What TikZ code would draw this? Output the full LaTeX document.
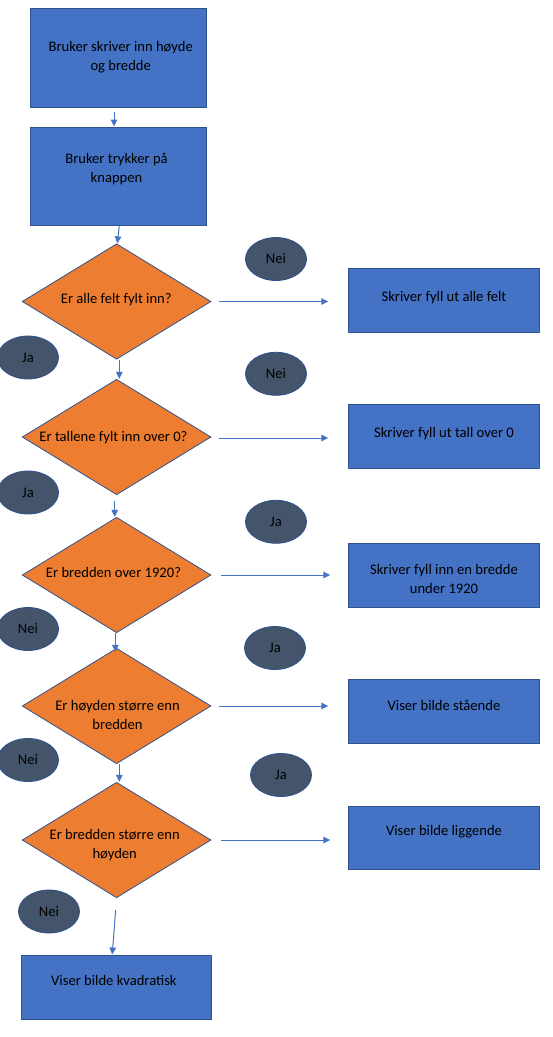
\documentclass[tikz,border=0pt]{standalone}
\usepackage{fontspec}
\setmainfont{Carlito}
\usetikzlibrary{shapes.geometric,arrows.meta}
\definecolor{boxblue}{HTML}{4472C4}
\definecolor{edgeblue}{HTML}{2F528F}
\definecolor{dorange}{HTML}{ED7D31}
\definecolor{ovalgray}{HTML}{44546A}
\begin{document}
\begin{tikzpicture}[x=1pt,y=-1pt,
  font=\fontsize{14.6}{19}\selectfont,
  bluebox/.style={draw=edgeblue,fill=boxblue,line width=1pt,inner sep=0pt,minimum width=#1},
  bluebox/.default=190.3pt,
  decision/.style={diamond,draw=edgeblue,fill=dorange,line width=0.8pt,inner sep=0pt,
    minimum width=188.8pt,minimum height=115.5pt},
  oval/.style={ellipse,draw=edgeblue,fill=ovalgray,line width=0.8pt,inner sep=0pt,
    minimum width=61pt,minimum height=43pt},
  txt/.style={align=center,inner sep=0pt},
  flow/.style={draw=boxblue,line width=1pt,-{Triangle[length=7pt,width=6.5pt]}}
]
\useasboundingbox (0,0) rectangle (553,1037);
\clip (0,0) rectangle (553,1037);

% left column boxes
\node[bluebox=176.4pt,minimum height=99pt] (b1) at (118.6,57.5) {};
\node[txt] (t1) at (120.7,57.5) {Bruker skriver inn høyde\\og bredde};
\node[bluebox=176.4pt,minimum height=98pt] (b2) at (118.6,176) {};
\node[txt] (t2) at (116.5,169) {Bruker trykker på\\knappen};

% decisions
\node[decision] (d1) at (116.6,301.5) {};
\node[txt] (td1) at (116.3,299.5) {Er alle felt fylt inn?};
\node[decision] (d2) at (116.6,437) {};
\node[txt] (td2) at (113.5,437.5) {Er tallene fylt inn over 0?};
\node[decision] (d3) at (116.6,575) {};
\node[txt] (td3) at (113.5,572.5) {Er bredden over 1920?};
\node[decision] (d4) at (116.6,706) {};
\node[txt] (t4) at (117.5,715) {Er høyden større enn\\bredden};
\node[decision] (d5) at (116.6,840) {};
\node[txt] (t5) at (114.7,845.5) {Er bredden større enn\\høyden};

% right boxes
\node[bluebox,minimum height=64pt] (r1) at (443.9,300) {};
\node[txt] (tr1) at (444,297.5) {Skriver fyll ut alle felt};
\node[bluebox,minimum height=64pt] (r2) at (443.9,436) {};
\node[txt] (tr2) at (444,434) {Skriver fyll ut tall over 0};
\node[bluebox,minimum height=64pt] (r3) at (443.9,575) {};
\node[txt] (tr3) at (444,578.5) {Skriver fyll inn en bredde\\under 1920};
\node[bluebox,minimum height=64pt] (r4) at (443.9,711) {};
\node[txt] (tr4) at (444,705.8) {Viser bilde stående};
\node[bluebox,minimum height=63pt] (r5) at (443.9,837.5) {};
\node[txt] (tr5) at (444,831.8) {Viser bilde liggende};

% bottom box
\node[bluebox=190.6pt,minimum height=64pt] (b3) at (116.5,987) {};
\node[txt] (tb3) at (113.9,980.5) {Viser bilde kvadratisk};

% ovals
\node[oval] (n1) at (276,259) {Nei};
\node[oval] (j1) at (28,357.5) {Ja};
\node[oval] (n2) at (276,373.8) {Nei};
\node[oval] (j2) at (28,492.5) {Ja};
\node[oval] (j3) at (276,521.8) {Ja};
\node[oval] (n3) at (28,629) {Nei};
\node[oval] (j4) at (275,648) {Ja};
\node[oval] (n4) at (28,760) {Nei};
\node[oval] (j5) at (281,775) {Ja};
\node[oval] (n5) at (49,911.5) {Nei};

% vertical connectors
\draw[flow,shorten <=4pt] ([xshift=-4.6pt]b1.south) -- ([xshift=-4.6pt]b2.north);
\draw[flow] ([xshift=0.7pt]b2.south) -- ([xshift=0.7pt]d1.north);
\draw[flow] ([xshift=2.7pt]d1.south) -- ([xshift=2.7pt]d2.north);
\draw[flow,shorten <=6pt] ([xshift=-1.9pt]d2.south) -- ([xshift=-1.9pt]d3.north);
\draw[flow,shorten >=-4pt] ([xshift=-1.2pt]d3.south) -- ([xshift=-1.2pt]d4.north);
\draw[flow] ([xshift=2.7pt]d4.south) -- ([xshift=2.7pt]d5.north);
\draw[flow,shorten <=12pt] (d5.south) -- ([xshift=-4.3pt]b3.north);

% horizontal connectors
\draw[flow,shorten <=8pt,shorten >=20pt] (d1.east) -- (d1.east -| r1.west);
\draw[flow,shorten <=8pt,shorten >=20pt] ([yshift=-1pt]d2.east) -- ([yshift=-1pt]d2.east -| r2.west);
\draw[flow,shorten <=10pt,shorten >=18pt] (d3.east) -- (d3.east -| r3.west);
\draw[flow,shorten <=8pt,shorten >=20pt] (d4.east) -- (d4.east -| r4.west);
\draw[flow,shorten <=10pt,shorten >=18pt] (d5.east) -- (d5.east -| r5.west);
\end{tikzpicture}
\end{document}
